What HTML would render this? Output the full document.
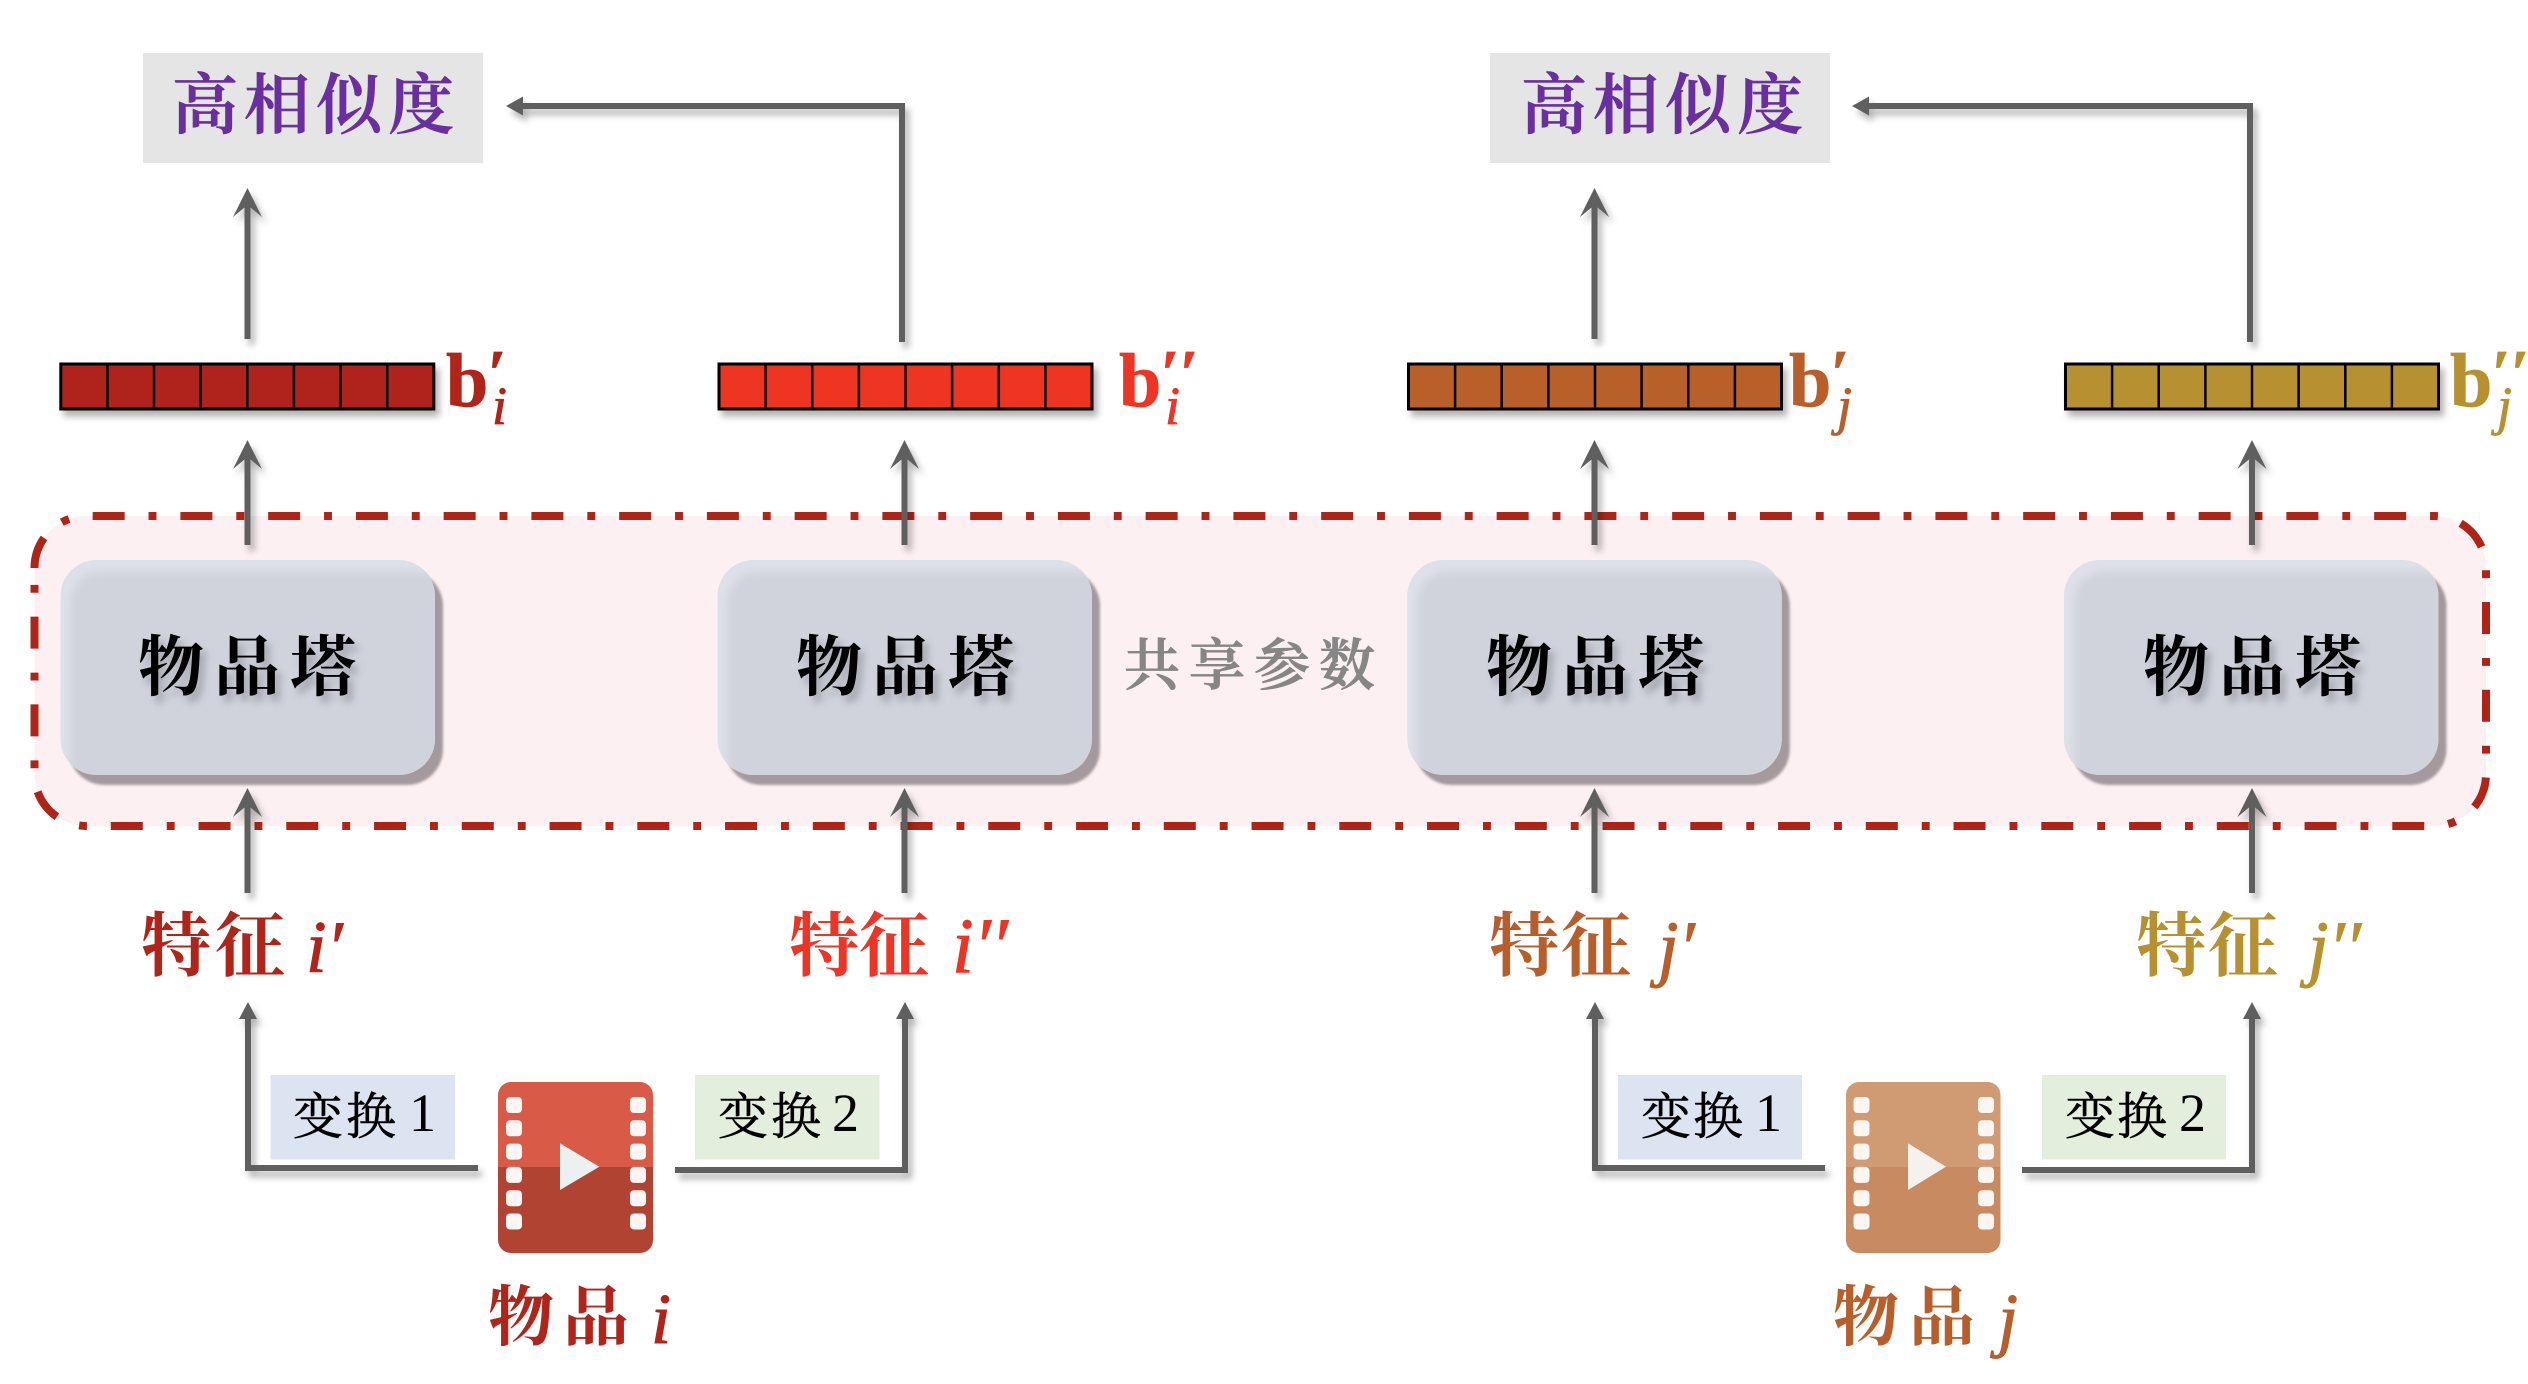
<!DOCTYPE html>
<html><head><meta charset="utf-8"><style>
html,body{margin:0;padding:0;background:#fff}
svg{display:block}
.k{font-family:"Liberation Serif","Noto Serif CJK SC",serif;font-weight:700}
.m{font-family:"Liberation Serif","Noto Serif CJK SC",serif;font-style:italic}
.b{font-family:"Liberation Serif",serif;font-weight:700;font-size:76px}
.p{font-family:"Liberation Serif",serif;font-style:italic;font-weight:700}
</style></head><body>
<svg xmlns="http://www.w3.org/2000/svg" width="2528" height="1384" viewBox="0 0 2528 1384">
<defs>
<filter id="sv" filterUnits="userSpaceOnUse" x="0" y="0" width="2528" height="1384"><feDropShadow dx="4" dy="6" stdDeviation="3.5" flood-color="#000" flood-opacity=".3"/></filter>
<filter id="ts" filterUnits="userSpaceOnUse" x="0" y="0" width="2528" height="1384"><feDropShadow dx="5" dy="7" stdDeviation="4" flood-color="#000" flood-opacity=".22"/></filter>
<filter id="bl" x="-20%" y="-20%" width="140%" height="140%"><feGaussianBlur stdDeviation="4"/></filter>
<filter id="b2" x="-20%" y="-20%" width="140%" height="140%"><feGaussianBlur stdDeviation="1.2"/></filter>
<clipPath id="tc"><rect width="374.5" height="215" rx="36"/></clipPath>
<g id="tower">
<rect x="8" y="10" width="374.5" height="215" rx="36" fill="#a49a9d" filter="url(#b2)"/>
<rect width="374.5" height="215" rx="36" fill="#dde0e8"/>
<g clip-path="url(#tc)"><rect x="10" y="12" width="400" height="240" rx="30" fill="#d0d3dc" filter="url(#bl)"/></g>
</g>
<g id="bar" stroke="#000" stroke-width="3">
<rect width="373" height="45"/>
<path fill="none" stroke-width="2.5" d="M46.6 0V45M93.2 0V45M139.9 0V45M186.5 0V45M233.1 0V45M279.8 0V45M326.4 0V45"/>
</g>
</defs>
<rect width="2528" height="1384" fill="#fff"/>

<!-- panel -->
<path d="M34.5 568A52 52 0 0 1 86.5 516H2434A52 52 0 0 1 2486 568V774A52 52 0 0 1 2434 826H86.5A52 52 0 0 1 34.5 774Z" fill="#fcf0f2"/>
<path d="M34.5 568A52 52 0 0 1 86.5 516H2434A52 52 0 0 1 2486 568V774A52 52 0 0 1 2434 826H86.5A52 52 0 0 1 34.5 774Z" fill="none" stroke="#b02418" stroke-width="8" stroke-dasharray="32 23.9 7.9 23.95"/>

<!-- towers -->
<use href="#tower" x="60.5" y="560"/>
<use href="#tower" x="717.5" y="560"/>
<use href="#tower" x="1407.3" y="560"/>
<use href="#tower" x="2064" y="560"/>
<g class="k" font-size="66" fill="#000" filter="url(#ts)">
<text x="138 214 290" y="690">物品塔</text>
<text x="796 872 948" y="690">物品塔</text>
<text x="1486 1562 1638" y="690">物品塔</text>
<text x="2143 2219 2295" y="690">物品塔</text>
</g>
<text class="k" font-size="56" fill="#868686" stroke="#868686" stroke-width=".8" x="1124 1189 1254 1319" y="685" style="font-weight:600">共享参数</text>

<!-- top boxes -->
<rect x="143" y="53" width="340" height="110" fill="#e5e5e6"/>
<rect x="1490" y="53" width="340" height="110" fill="#e5e5e6"/>
<g class="k" font-size="66" fill="#6a2f9e" stroke="#6a2f9e" stroke-width=".7" style="font-weight:600">
<text x="172 244 316 388" y="128">高相似度</text>
<text x="1521 1593 1665 1737" y="128">高相似度</text>
</g>

<!-- bars -->
<g filter="url(#sv)">
<use href="#bar" x="60.8" y="364" fill="#b0241a"/>
<use href="#bar" x="719" y="364" fill="#ee3424"/>
<use href="#bar" x="1408.5" y="364" fill="#b85e2b"/>
<use href="#bar" x="2065.5" y="364" fill="#b79030"/>
</g>

<!-- b labels -->
<g fill="#b0241a" stroke="#b0241a" stroke-width=".8"><text class="b" x="446" y="406">b</text><text class="p" font-size="66" x="487" y="395">′</text><text class="m" font-size="54" x="492" y="424">i</text></g>
<g fill="#ee3424" stroke="#ee3424" stroke-width=".8"><text class="b" x="1119" y="406">b</text><text class="p" font-size="66" x="1160 1179" y="395">′′</text><text class="m" font-size="54" x="1165" y="424">i</text></g>
<g fill="#b85e2b" stroke="#b85e2b" stroke-width=".8"><text class="b" x="1789" y="406">b</text><text class="p" font-size="66" x="1830" y="395">′</text><text class="m" font-size="54" x="1837" y="424">j</text></g>
<g fill="#b79030" stroke="#b79030" stroke-width=".8"><text class="b" x="2450" y="406">b</text><text class="p" font-size="66" x="2491 2510" y="395">′′</text><text class="m" font-size="54" x="2497" y="424">j</text></g>

<!-- arrows -->
<g filter="url(#sv)" fill="#5f5f5f" stroke="none">
<path d="M244.5 339V205H250.5V339Z"/><path d="M247.5 188L262 217L247.5 205L233 217Z"/>
<path d="M1591.5 339V205H1597.5V339Z"/><path d="M1594.5 188L1609 217L1594.5 205L1580 217Z"/>
<path d="M899 342V109H520V103H905V342Z"/><path d="M506 106L523 96.5V115.5Z"/>
<path d="M2247 342V109H1866V103H2253V342Z"/><path d="M1852 106L1869 96.5V115.5Z"/>
<path d="M244.5 545V457H250.5V545Z"/><path d="M247.5 440L262 469L247.5 457L233 469Z"/>
<path d="M901.5 545V457H907.5V545Z"/><path d="M904.5 440L919 469L904.5 457L890 469Z"/>
<path d="M1591.5 545V457H1597.5V545Z"/><path d="M1594.5 440L1609 469L1594.5 457L1580 469Z"/>
<path d="M2249 545V457H2255V545Z"/><path d="M2252 440L2266.5 469L2252 457L2237.5 469Z"/>
<path d="M244.5 893V805H250.5V893Z"/><path d="M247.5 788L262 817L247.5 805L233 817Z"/>
<path d="M901.5 893V805H907.5V893Z"/><path d="M904.5 788L919 817L904.5 805L890 817Z"/>
<path d="M1591.5 893V805H1597.5V893Z"/><path d="M1594.5 788L1609 817L1594.5 805L1580 817Z"/>
<path d="M2249 893V805H2255V893Z"/><path d="M2252 788L2266.5 817L2252 805L2237.5 817Z"/>
<path d="M245 1015H251V1165H478V1171H245Z"/><path d="M248 1002L257 1019H239Z"/>
<path d="M902 1015H908V1173H675V1167H902Z"/><path d="M905 1002L914 1019H896Z"/>
<path d="M1592 1015H1598V1165H1825V1171H1592Z"/><path d="M1595 1002L1604 1019H1586Z"/>
<path d="M2249 1015H2255V1173H2022V1167H2249Z"/><path d="M2252 1002L2261 1019H2243Z"/>
</g>

<!-- transform boxes -->
<rect x="270.5" y="1075" width="184.5" height="84.5" fill="#dde4f1"/>
<rect x="695" y="1075" width="184.5" height="84.5" fill="#e3efdc"/>
<rect x="1618" y="1075" width="184" height="84.5" fill="#dde4f1"/>
<rect x="2042" y="1075" width="184" height="84.5" fill="#e3efdc"/>
<g font-family="'Liberation Serif','Noto Serif CJK SC',serif" fill="#000" font-size="50" stroke="#000" stroke-width=".5">
<text x="293 346" y="1134">变换</text><text x="409" y="1131" font-size="54" stroke="none">1</text>
<text x="718 771" y="1134">变换</text><text x="832" y="1131" font-size="54" stroke="none">2</text>
<text x="1641 1693" y="1134">变换</text><text x="1755" y="1131" font-size="54" stroke="none">1</text>
<text x="2065 2117" y="1134">变换</text><text x="2179" y="1131" font-size="54" stroke="none">2</text>
</g>

<!-- film i -->
<path d="M498 1167V1095a13 13 0 0 1 13-13H640a13 13 0 0 1 13 13V1167Z" fill="#d95a47"/>
<path d="M498 1167V1240a13 13 0 0 0 13 13H640a13 13 0 0 0 13-13V1167Z" fill="#b14333"/>
<g fill="#fdf6f4">
<rect x="506" y="1097" width="16" height="16" rx="4"/><rect x="506" y="1120.3" width="16" height="16" rx="4"/><rect x="506" y="1143.6" width="16" height="16" rx="4"/><rect x="506" y="1166.9" width="16" height="16" rx="4"/><rect x="506" y="1190.2" width="16" height="16" rx="4"/><rect x="506" y="1213.5" width="16" height="16" rx="4"/>
<rect x="630" y="1097" width="16" height="16" rx="4"/><rect x="630" y="1120.3" width="16" height="16" rx="4"/><rect x="630" y="1143.6" width="16" height="16" rx="4"/><rect x="630" y="1166.9" width="16" height="16" rx="4"/><rect x="630" y="1190.2" width="16" height="16" rx="4"/><rect x="630" y="1213.5" width="16" height="16" rx="4"/>
</g>
<path d="M560 1143.3L599.3 1166.7L560 1190Z" fill="#edf0f1"/>

<!-- film j -->
<path d="M1846 1167V1095a13 13 0 0 1 13-13H1987.5a13 13 0 0 1 13 13V1167Z" fill="#d09a73"/>
<path d="M1846 1167V1240a13 13 0 0 0 13 13H1987.5a13 13 0 0 0 13-13V1167Z" fill="#c88a60"/>
<g fill="#fbf6f2">
<rect x="1853.5" y="1097" width="16" height="16" rx="4"/><rect x="1853.5" y="1120.3" width="16" height="16" rx="4"/><rect x="1853.5" y="1143.6" width="16" height="16" rx="4"/><rect x="1853.5" y="1166.9" width="16" height="16" rx="4"/><rect x="1853.5" y="1190.2" width="16" height="16" rx="4"/><rect x="1853.5" y="1213.5" width="16" height="16" rx="4"/>
<rect x="1978" y="1097" width="16" height="16" rx="4"/><rect x="1978" y="1120.3" width="16" height="16" rx="4"/><rect x="1978" y="1143.6" width="16" height="16" rx="4"/><rect x="1978" y="1166.9" width="16" height="16" rx="4"/><rect x="1978" y="1190.2" width="16" height="16" rx="4"/><rect x="1978" y="1213.5" width="16" height="16" rx="4"/>
</g>
<path d="M1908 1143.3L1946 1166.7L1908 1190Z" fill="#f5f2ee"/>

<!-- feature labels -->
<g fill="#b0241a"><text class="k" font-size="70" x="141 215" y="970">特征</text><text class="m" font-size="74" stroke="#b0241a" stroke-width="1" x="306" y="972">i′</text></g>
<g fill="#ee3424"><text class="k" font-size="70" x="789 859" y="970">特征</text><text class="m" font-size="78" stroke="#ee3424" stroke-width="1" x="952" y="972">i′′</text></g>
<g fill="#b85e2b"><text class="k" font-size="70" x="1489 1561" y="970">特征</text><text class="m" font-size="74" stroke="#b85e2b" stroke-width="1" x="1658" y="972">j′</text></g>
<g fill="#b79030"><text class="k" font-size="70" x="2136 2208" y="970">特征</text><text class="m" font-size="74" stroke="#b79030" stroke-width="1" x="2308" y="972">j′′</text></g>

<!-- item labels -->
<g fill="#b0241a"><text class="k" font-size="66" x="488 563" y="1340">物品</text><text class="m" font-size="72" stroke="#b0241a" stroke-width="1" x="651" y="1343">i</text></g>
<g fill="#b85e2b"><text class="k" font-size="66" x="1833 1909" y="1340">物品</text><text class="m" font-size="72" stroke="#b85e2b" stroke-width="1" x="1998" y="1343">j</text></g>
</svg>
</body></html>
